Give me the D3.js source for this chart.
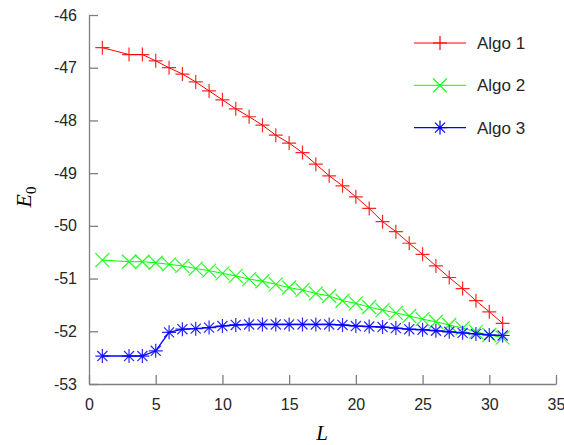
<!DOCTYPE html>
<html>
<head>
<meta charset="utf-8">
<script src="https://cdn.jsdelivr.net/npm/d3@7"></script>
<style>
  body { margin: 0; background: #fff; }
  svg { display: block; }
</style>
</head>
<body>
<div id="chart"></div>
<script>
// L values (x = 2 is missing in the original)
const lValues = [1, 3, 4, 5, 6, 7, 8, 9, 10, 11, 12, 13, 14, 15, 16, 17, 18, 19, 20,
                 21, 22, 23, 24, 25, 26, 27, 28, 29, 30, 31];

const algo1 = [-46.62, -46.75, -46.75, -46.87, -47.0, -47.12, -47.27, -47.44, -47.61, -47.78,
               -47.93, -48.09, -48.28, -48.43, -48.61, -48.83, -49.05, -49.24, -49.45, -49.67,
               -49.92, -50.11, -50.33, -50.54, -50.76, -50.98, -51.19, -51.42, -51.63, -51.85];

const algo2 = [-50.65, -50.68, -50.68, -50.70, -50.73, -50.76, -50.81, -50.85, -50.90, -50.95,
               -51.01, -51.05, -51.11, -51.17, -51.22, -51.28, -51.33, -51.42, -51.47, -51.54,
               -51.60, -51.65, -51.71, -51.77, -51.82, -51.88, -51.94, -52.01, -52.07, -52.12];

const algo3 = [-52.47, -52.47, -52.47, -52.37, -52.02, -51.96, -51.95, -51.93, -51.90, -51.88,
               -51.87, -51.87, -51.87, -51.87, -51.87, -51.87, -51.87, -51.88, -51.90, -51.91,
               -51.92, -51.94, -51.96, -51.97, -51.99, -52.01, -52.03, -52.05, -52.07, -52.08];

const seriesNames = ["Algo 1", "Algo 2", "Algo 3"];
const xTicks = [0, 5, 10, 15, 20, 25, 30, 35];
const yTicks = [-53, -52, -51, -50, -49, -48, -47, -46];

const width = 564, height = 445;
const margin = { top: 15, right: 8, bottom: 61, left: 89 };

const svg = d3.select("#chart").append("svg")
    .attr("width", width)
    .attr("height", height);

const x = d3.scaleLinear().domain([0, 35]).range([margin.left, width - margin.right]);
const y = d3.scaleLinear().domain([-53, -46]).range([height - margin.bottom, margin.top]);

// marker shapes (MATLAB style +, x, *)
const s = 7;
const markerPath = {
    plus: `M${-s},0H${s}M0,${-s}V${s}`,
    cross: `M${-s},${-s}L${s},${s}M${-s},${s}L${s},${-s}`,
    star: `M${-s},0H${s}M0,${-s}V${s}M${-s * 0.72},${-s * 0.72}L${s * 0.72},${s * 0.72}M${-s * 0.72},${s * 0.72}L${s * 0.72},${-s * 0.72}`
};

const series = [
    { name: seriesNames[0], values: algo1, color: "#ff0000", marker: "plus", lw: 1 },
    { name: seriesNames[1], values: algo2, color: "#00ff00", marker: "cross", lw: 1 },
    { name: seriesNames[2], values: algo3, color: "#0000ff", marker: "star", lw: 1.4 }
];

// axes
const axisColor = "#7f7f7f";
const textColor = "#262626";

const xAxis = svg.append("g")
    .attr("transform", `translate(0,${y.range()[0]})`)
    .call(d3.axisBottom(x).tickValues(xTicks).tickSize(-9).tickPadding(12).tickSizeOuter(0));

const yAxis = svg.append("g")
    .attr("transform", `translate(${x.range()[0]},0)`)
    .call(d3.axisLeft(y).tickValues(yTicks).tickSize(-9).tickPadding(12).tickSizeOuter(0)
        .tickFormat(d => String(d)));

[xAxis, yAxis].forEach(g => {
    g.select(".domain").attr("stroke", axisColor).attr("stroke-width", 1.3);
    g.selectAll(".tick line").attr("stroke", axisColor).attr("stroke-width", 1.3);
    g.selectAll(".tick text")
        .attr("fill", textColor)
        .style("font-family", "'Liberation Sans', Arial, sans-serif")
        .style("font-size", "16px");
});
xAxis.selectAll(".tick text").attr("dy", "0.9em");

// lines + markers
const line = d3.line()
    .x((d, i) => x(lValues[i]))
    .y(d => y(d));

series.forEach(sr => {
    svg.append("path")
        .datum(sr.values)
        .attr("fill", "none")
        .attr("stroke", sr.color)
        .attr("stroke-width", sr.lw)
        .attr("d", line);

    svg.append("g")
        .selectAll("path")
        .data(sr.values)
        .enter()
        .append("path")
        .attr("transform", (d, i) => `translate(${x(lValues[i])},${y(d)})`)
        .attr("d", markerPath[sr.marker])
        .attr("fill", "none")
        .attr("stroke", sr.color)
        .attr("stroke-width", 1.2)
        .attr("stroke-opacity", 0.85);
});

// legend
const legend = svg.append("g").attr("transform", "translate(414,43)");
series.forEach((sr, i) => {
    const row = legend.append("g").attr("transform", `translate(0,${i * 42.3})`);
    row.append("line")
        .attr("x1", 0).attr("x2", 52)
        .attr("stroke", sr.color)
        .attr("stroke-width", sr.lw);
    row.append("path")
        .attr("transform", "translate(26,0)")
        .attr("d", markerPath[sr.marker])
        .attr("fill", "none")
        .attr("stroke", sr.color)
        .attr("stroke-width", 1.2);
    row.append("text")
        .attr("x", 63)
        .attr("dy", "0.35em")
        .attr("fill", textColor)
        .style("font-family", "'Liberation Sans', Arial, sans-serif")
        .style("font-size", "17px")
        .text(sr.name);
});

// axis titles
svg.append("text")
    .attr("x", 322)
    .attr("y", 440)
    .attr("text-anchor", "middle")
    .attr("fill", "#000")
    .style("font-family", "'Liberation Serif', 'Times New Roman', serif")
    .style("font-style", "italic")
    .style("font-size", "21px")
    .text("L");

const yTitle = svg.append("text")
    .attr("transform", "translate(31,197) rotate(-90)")
    .attr("text-anchor", "middle")
    .attr("fill", "#000")
    .style("font-family", "'Liberation Serif', 'Times New Roman', serif")
    .style("font-size", "22px");
yTitle.append("tspan").style("font-style", "italic").text("E");
yTitle.append("tspan").attr("dy", 5).style("font-size", "15px").text("0");
</script>
</body>
</html>
